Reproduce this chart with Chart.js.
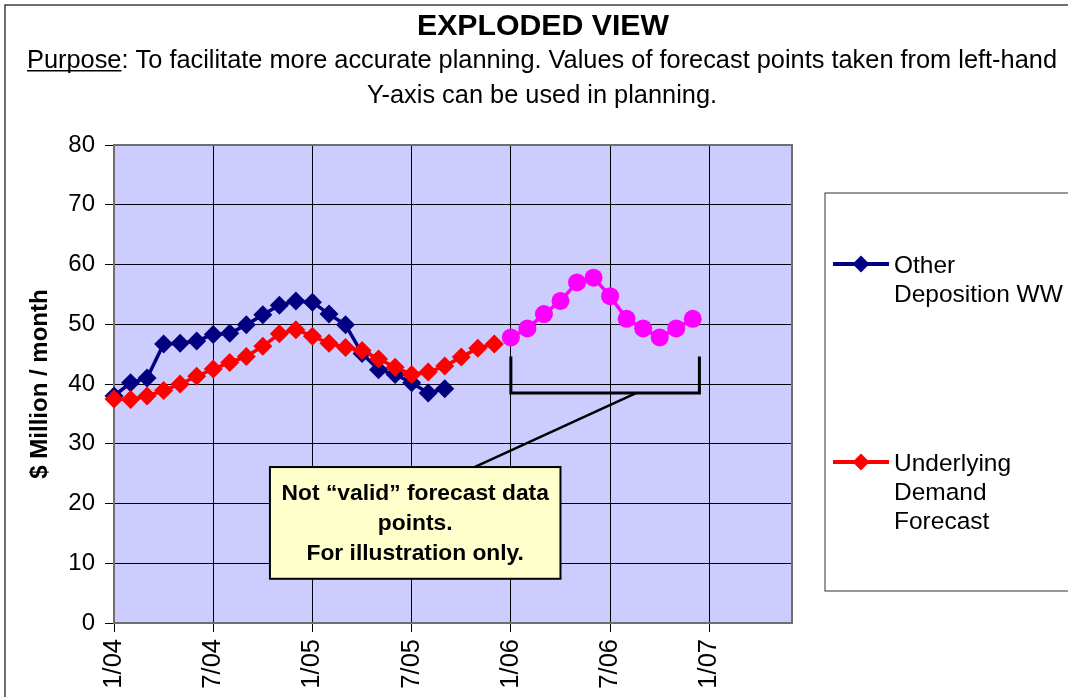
<!DOCTYPE html>
<html>
<head>
<meta charset="utf-8">
<script src="https://cdn.jsdelivr.net/npm/chart.js@4.4.1/dist/chart.umd.min.js"></script>
<style>
  html, body { margin: 0; padding: 0; background: #ffffff; }
  #wrap { width: 1068px; height: 697px; position: relative; overflow: hidden; }
</style>
</head>
<body>
<div id="wrap"><canvas id="c" width="1068" height="697"></canvas></div>
<script>
// ---------- DATA ----------
const tickLabels = ['1/04', '7/04', '1/05', '7/05', '1/06', '7/06', '1/07'];
const tickMonths = [0, 6, 12, 18, 24, 30, 36];          // months after 1/04

const seriesNames = ['Other Deposition WW', 'Underlying Demand Forecast'];

const blueStartMonth = 0;
const blueValues = [38.0, 40.2, 41.0, 46.7, 46.8, 47.2, 48.3, 48.5, 49.9, 51.6, 53.2,
                    53.9, 53.7, 51.7, 49.9, 45.1, 42.4, 41.6, 40.2, 38.5, 39.2];

const redStartMonth = 0;
const redValues = [37.5, 37.4, 38.0, 38.9, 40.0, 41.3, 42.5, 43.6, 44.6, 46.3, 48.4, 49.1,
                   48.0, 46.8, 46.1, 45.6, 44.2, 42.8, 41.6, 42.0, 43.0, 44.5, 46.0, 46.7];

const forecastStartMonth = 24;
const forecastValues = [47.8, 49.3, 51.7, 53.9, 57.0, 57.8, 54.7, 50.9, 49.3, 47.8, 49.3, 50.9];

const titleText = 'EXPLODED VIEW';
const purposeLabel = 'Purpose';
const purposeLine1 = ': To facilitate more accurate planning. Values of forecast points taken from left-hand';
const purposeLine2 = 'Y-axis can be used in planning.';
const yAxisTitle = '$ Million / month';
const noteLines = ['Not \u201cvalid\u201d forecast data', 'points.', 'For illustration only.'];
const legendLines = [['Other', 'Deposition WW'], ['Underlying', 'Demand', 'Forecast']];

// ---------- STYLE ----------
const FONT = "'Liberation Sans', Arial, Helvetica, sans-serif";
const NAVY = '#000080', RED = '#ff0000', MAGENTA = '#ff00ff';

function toPoints(start, vals) { return vals.map((v, i) => ({ x: start + i, y: v })); }

function fitSize(ctx, text, weight, target) {
  ctx.font = weight + ' 100px ' + FONT;
  return 100 * target / ctx.measureText(text).width;
}

const decorPlugin = {
  id: 'decor',
  beforeDraw(chart) {
    const { ctx, chartArea: a } = chart;
    ctx.save();
    ctx.fillStyle = '#ffffff';
    ctx.fillRect(0, 0, chart.width, chart.height);
    // outer frame
    ctx.strokeStyle = '#404040';
    ctx.lineWidth = 1.5;
    ctx.strokeRect(5, 5, chart.width + 20, chart.height + 20);
    // plot background
    ctx.fillStyle = '#ccccff';
    ctx.fillRect(a.left, a.top, a.right - a.left, a.bottom - a.top);
    ctx.restore();
  },
  beforeDatasetsDraw(chart) {
    const { ctx, chartArea: a } = chart;
    ctx.save();
    ctx.strokeStyle = '#6e6e6e';
    ctx.lineWidth = 2;
    ctx.strokeRect(a.left, a.top, a.right - a.left, a.bottom - a.top);
    ctx.restore();
  },
  afterDatasetsDraw(chart) {
    const { ctx } = chart;
    const xs = chart.scales.x, ys = chart.scales.y;
    const X = v => xs.getPixelForValue(v), Y = v => ys.getPixelForValue(v);
    ctx.save();
    // bracket under the forecast points
    ctx.strokeStyle = '#000';
    ctx.lineWidth = 3;
    ctx.lineJoin = 'miter';
    ctx.beginPath();
    ctx.moveTo(X(24), Y(44.6));
    ctx.lineTo(X(24), Y(38.5));
    ctx.lineTo(X(35.4), Y(38.5));
    ctx.lineTo(X(35.4), Y(44.6));
    ctx.stroke();
    // pointer line
    ctx.lineWidth = 2.5;
    ctx.beginPath();
    ctx.moveTo(X(31.6), Y(38.5));
    ctx.lineTo(X(21.8), Y(26.1));
    ctx.stroke();
    // note box
    const bx1 = X(9.43), bx2 = X(27.0), by1 = Y(26.1), by2 = Y(7.4);
    ctx.fillStyle = '#ffffcc';
    ctx.fillRect(bx1, by1, bx2 - bx1, by2 - by1);
    ctx.strokeStyle = '#000';
    ctx.lineWidth = 2;
    ctx.strokeRect(bx1, by1, bx2 - bx1, by2 - by1);
    ctx.fillStyle = '#000';
    ctx.font = 'bold 22.8px ' + FONT;
    ctx.textAlign = 'center';
    ctx.textBaseline = 'middle';
    const cx = (bx1 + bx2) / 2;
    noteLines.forEach((t, i) => ctx.fillText(t, cx, by1 + 27 + i * 30));
    ctx.restore();
  },
  afterDraw(chart) {
    const { ctx } = chart;
    ctx.save();
    ctx.fillStyle = '#000';
    ctx.textBaseline = 'alphabetic';
    // title
    const ts = fitSize(ctx, titleText, 'bold', 252);
    ctx.font = 'bold ' + ts.toFixed(2) + 'px ' + FONT;
    ctx.textAlign = 'center';
    ctx.fillText(titleText, 543, 35);
    // purpose lines
    const full = purposeLabel + purposeLine1;
    const ps = fitSize(ctx, full, 'normal', 1030);
    ctx.font = ps.toFixed(2) + 'px ' + FONT;
    const fw = ctx.measureText(full).width;
    const sx = 542 - fw / 2;
    ctx.textAlign = 'left';
    ctx.fillText(purposeLabel, sx, 68);
    const lw = ctx.measureText(purposeLabel).width;
    ctx.fillText(purposeLine1, sx + lw, 68);
    ctx.fillRect(sx, 70, lw, 1.5);
    ctx.textAlign = 'center';
    ctx.fillText(purposeLine2, 542, 103);

    // legend
    ctx.fillStyle = '#ffffff';
    ctx.fillRect(825, 193, 300, 398);
    ctx.strokeStyle = '#555';
    ctx.lineWidth = 1.2;
    ctx.strokeRect(825, 193, 300, 398);
    const ds = chart.data.datasets;
    const entries = [{ d: ds[0], y: 264 }, { d: ds[1], y: 462 }];
    entries.forEach((e, k) => {
      ctx.strokeStyle = e.d.borderColor;
      ctx.lineWidth = 4;
      ctx.beginPath();
      ctx.moveTo(833, e.y);
      ctx.lineTo(889, e.y);
      ctx.stroke();
      ctx.fillStyle = e.d.backgroundColor;
      ctx.beginPath();
      ctx.moveTo(861, e.y - 8.5);
      ctx.lineTo(869.5, e.y);
      ctx.lineTo(861, e.y + 8.5);
      ctx.lineTo(852.5, e.y);
      ctx.closePath();
      ctx.fill();
      ctx.fillStyle = '#000';
      ctx.font = '24.5px ' + FONT;
      ctx.textAlign = 'left';
      ctx.textBaseline = 'middle';
      legendLines[k].forEach((t, i) => ctx.fillText(t, 894, e.y + 2 + i * 29));
    });
    ctx.restore();
  }
};

const chart = new Chart(document.getElementById('c'), {
  type: 'line',
  data: {
    datasets: [
      {
        label: seriesNames[0],
        data: toPoints(blueStartMonth, blueValues),
        borderColor: NAVY, backgroundColor: NAVY,
        borderWidth: 3.5, pointStyle: 'rectRot', pointRadius: 9.5, pointBorderWidth: 0,
        tension: 0, clip: false, order: 2
      },
      {
        label: seriesNames[1],
        data: toPoints(redStartMonth, redValues),
        borderColor: RED, backgroundColor: RED,
        borderWidth: 3.5, pointStyle: 'rectRot', pointRadius: 9.5, pointBorderWidth: 0,
        tension: 0, clip: false, order: 1
      },
      {
        label: 'forecast',
        data: toPoints(forecastStartMonth, forecastValues),
        borderColor: MAGENTA, backgroundColor: MAGENTA,
        borderWidth: 3.5, pointStyle: 'circle', pointRadius: 9, pointBorderWidth: 0,
        tension: 0, clip: false, order: 0
      }
    ]
  },
  options: {
    responsive: false,
    animation: false,
    devicePixelRatio: 1,
    layout: { padding: { left: 0, top: 145, right: 276, bottom: 0 } },
    plugins: { legend: { display: false }, tooltip: { enabled: false }, title: { display: false } },
    scales: {
      x: {
        type: 'linear', min: 0, max: 41,
        afterBuildTicks: s => { s.ticks = tickMonths.map(v => ({ value: v })); },
        afterFit: s => { s.height = 74; },
        ticks: {
          autoSkip: false, maxRotation: 90, minRotation: 90, padding: 7,
          color: '#000', font: { family: FONT, size: 25.5 },
          callback: v => tickLabels[tickMonths.indexOf(v)]
        },
        grid: { color: '#000', lineWidth: 1, tickLength: 9, drawTicks: true },
        border: { display: false }
      },
      y: {
        min: 0, max: 80,
        afterFit: s => { s.width = 114; },
        ticks: { stepSize: 10, padding: 10, color: '#000', font: { family: FONT, size: 24 } },
        grid: { color: '#000', lineWidth: 1, tickLength: 9, drawTicks: true },
        border: { display: false },
        title: {
          display: true, text: yAxisTitle, color: '#000',
          font: { family: FONT, size: 24, weight: 'bold' },
          padding: { top: 26, bottom: 0 }
        }
      }
    }
  },
  plugins: [decorPlugin]
});
</script>
</body>
</html>
